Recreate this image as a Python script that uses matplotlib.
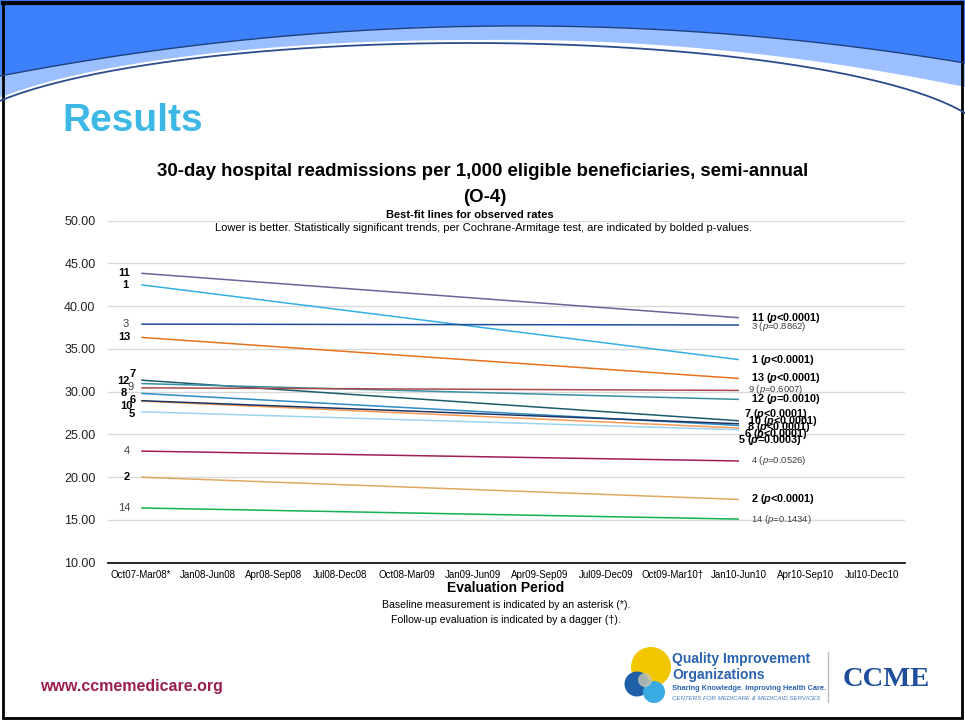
import numpy as np
import matplotlib
matplotlib.use("Agg")
import matplotlib.pyplot as plt
from matplotlib.patches import Circle, Rectangle

plt.rcParams['font.family'] = ['Liberation Sans', 'DejaVu Sans']
plt.rcParams['mathtext.fontset'] = 'custom'
plt.rcParams['mathtext.rm'] = 'Liberation Sans'
plt.rcParams['mathtext.it'] = 'Liberation Sans:italic'
plt.rcParams['mathtext.bf'] = 'Liberation Sans:bold'
plt.rcParams['mathtext.bfit'] = 'Liberation Sans:italic:bold'

# evaluation periods on the x axis
periods = ['Oct07-Mar08*', 'Jan08-Jun08', 'Apr08-Sep08', 'Jul08-Dec08', 'Oct08-Mar09',
           'Jan09-Jun09', 'Apr09-Sep09', 'Jul09-Dec09', 'Oct09-Mar10\u2020', 'Jan10-Jun10',
           'Apr10-Sep10', 'Jul10-Dec10']
fit_from = 'Oct07-Mar08*'
fit_to = 'Jan10-Jun10'

# best-fit rates per group at the first and last fitted period
groups = ['11', '1', '3', '13', '7', '12', '9', '8', '6', '10', '5', '4', '2', '14']
rate_start = [43.85, 42.50, 37.90, 36.35, 31.35, 30.95, 30.45, 29.80, 28.90, 28.95, 27.65, 23.05, 20.00, 16.40]
rate_end = [38.65, 33.75, 37.80, 31.55, 26.60, 29.10, 30.15, 26.05, 25.75, 26.25, 25.55, 21.90, 17.40, 15.10]
p_values = ['<0.0001', '<0.0001', '=0.8862', '<0.0001', '<0.0001', '=0.0010', '=0.6007',
            '<0.0001', '<0.0001', '<0.0001', '=0.0003', '=0.0526', '<0.0001', '=0.1434']
significant = [True, True, False, True, True, True, False, True, True, True, True, False, True, False]

colors = {'11': '#73609A', '1': '#35B0E4', '3': '#1F4E96', '13': '#E8711C', '7': '#1E5B6B',
          '12': '#3A8FA3', '9': '#A94A4A', '8': '#2F8CC4', '6': '#F59A52', '10': '#1B3566',
          '5': '#9AD3EE', '4': '#A01E58', '2': '#DDAA60', '14': '#14B050'}

# label nudges in pixels (dx, dy) so crowded labels don't sit on each other
left_nudge = {'11': (-11, 0), '1': (-13, 0), '3': (-12, 0), '13': (-11, 0), '7': (-5, 6),
              '12': (-12, 3), '9': (-8, 1), '8': (-14, 0), '6': (-5, 1), '10': (-9, -5),
              '5': (-6, -2), '4': (-11, 0), '2': (-11, 0), '14': (-11, 0)}
right_nudge = {'11': (12, 0), '3': (12, -1), '1': (12, 0), '13': (12, 0), '9': (9, 1),
               '12': (12, 0), '7': (5, 7), '10': (9, 3), '8': (8, -2), '6': (5, -6),
               '5': (-1, -10), '4': (12, 0), '2': (12, 0), '14': (12, 0)}

W, H = 965, 721
fig = plt.figure(figsize=(W / 100, H / 100), dpi=100)

# slide background: header swoosh, border, footer and logos
deco = fig.add_axes([0, 0, 1, 1], zorder=0)
deco.set_xlim(0, W)
deco.set_ylim(H, 0)
deco.axis('off')

xs = np.linspace(0, W, 600)

def parabola(pts):
    px, py = zip(*pts)
    return np.polyval(np.polyfit(px, py, 2), xs)

def arc(cx, cy, rx, ry):
    t = np.clip((xs - cx) / rx, -1, 1)
    return cy - ry * np.sqrt(1 - t ** 2)

upper = parabola([(0, 76), (500, 26), (965, 63)])
lower = arc(470, 144, 520, 101)
band = np.minimum(parabola([(0, 97), (480, 40), (965, 87)]), lower - 3)
deco.fill_between(xs, 0, upper, color='#3D80FC', lw=0)
deco.fill_between(xs, upper, band, where=band > upper, color='#9CC0FF', lw=0)
deco.plot(xs, upper, color='#1E3F7E', lw=1.0)
deco.plot(xs, lower, color='#2A4C8C', lw=1.3)
deco.add_patch(Rectangle((3, 3), W - 6, H - 6, fill=False, ec='black', lw=2))
deco.plot([3, W - 3], [3, 3], color='black', lw=3)

deco.text(62, 131, 'Results', color='#3DB8E4', fontsize=28, fontweight='bold', va='baseline')

deco.text(483, 171, '30-day hospital readmissions per 1,000 eligible beneficiaries, semi-annual',
          ha='center', va='center', fontsize=13.4, fontweight='bold')
deco.text(485, 198, '(O-4)', ha='center', va='center', fontsize=13.4, fontweight='bold')
deco.text(470, 215, 'Best-fit lines for observed rates', ha='center', va='center',
          fontsize=8, fontweight='bold')
deco.text(483, 228, 'Lower is better. Statistically significant trends, per Cochrane-Armitage test, '
          'are indicated by bolded p-values.', ha='center', va='center', fontsize=8)

deco.text(506, 588, 'Evaluation Period', ha='center', va='center', fontsize=10, fontweight='bold')
deco.text(506, 605, 'Baseline measurement is indicated by an asterisk (*).',
          ha='center', va='center', fontsize=7.6)
deco.text(506, 620, 'Follow-up evaluation is indicated by a dagger (\u2020).',
          ha='center', va='center', fontsize=7.6)

deco.text(40, 687, 'www.ccmemedicare.org', color='#9B1F52', fontsize=11.5,
          fontweight='bold', va='center')

# QIO logo circles
deco.add_patch(Circle((651, 667), 20, color='#F3C700', lw=0))
deco.add_patch(Circle((637, 684), 12.5, color='#1F5FA8', lw=0))
deco.add_patch(Circle((654, 692), 11, color='#3AAAE2', lw=0))
deco.add_patch(Circle((645, 680), 7, color='#C9C7B4', alpha=0.8, lw=0))
deco.text(672, 659, 'Quality Improvement', color='#2A63B0', fontsize=10, fontweight='bold', va='center')
deco.text(672, 675, 'Organizations', color='#2A63B0', fontsize=10, fontweight='bold', va='center')
deco.text(672, 689, 'Sharing Knowledge. Improving Health Care.', color='#2A63B0',
          fontsize=5.3, fontweight='bold', va='center')
deco.text(672, 699, 'CENTERS FOR MEDICARE & MEDICAID SERVICES', color='#4A7BC0',
          fontsize=4.4, style='italic', va='center')
deco.plot([828, 828], [652, 702], color='#BBBBBB', lw=1)
deco.text(843, 680, 'CCME', color='#1F4E9A', fontsize=20.5, fontweight='bold',
          family='Liberation Serif', va='center')

# chart area
ax = fig.add_axes([108 / W, 1 - 562.7 / H, (905 - 108) / W, (562.7 - 220.7) / H], zorder=1)
ax.set_facecolor('none')

i0, i1 = periods.index(fit_from), periods.index(fit_to)
for g, a, b, p, sig in zip(groups, rate_start, rate_end, p_values, significant):
    ax.plot([i0, i1], [a, b], color=colors[g], lw=1.1, solid_capstyle='butt')

    weight = 'bold' if sig else 'normal'
    tcol = 'black' if sig else '#404040'
    ax.annotate(g, xy=(i0, a), xytext=left_nudge[g], textcoords='offset pixels',
                ha='right', va='center', fontsize=8, fontweight=weight, color=tcol)
    if sig:
        lbl = g + r' ($\mathbfit{p}$' + p + ')'
        ax.annotate(lbl, xy=(i1, b), xytext=right_nudge[g], textcoords='offset pixels',
                    ha='left', va='center', fontsize=7.8, fontweight='bold', color='black')
    else:
        lbl = g + r' ($\mathit{p}$' + p + ')'
        ax.annotate(lbl, xy=(i1, b), xytext=right_nudge[g], textcoords='offset pixels',
                    ha='left', va='center', fontsize=6.8, color='#404040')

ax.set_xlim(-0.5, len(periods) - 0.5)
ax.set_ylim(10, 50)
ax.set_xticks(range(len(periods)))
ax.set_xticklabels(periods, fontsize=7)
ax.set_yticks(np.arange(10, 51, 5))
ax.set_yticklabels([f'{v:.2f}' for v in np.arange(10, 51, 5)], fontsize=9, color='#222222')
ax.tick_params(axis='x', length=0, pad=5)
ax.tick_params(axis='y', length=0, pad=9)
ax.yaxis.grid(True, color='#D9D9D9', lw=1)
ax.set_axisbelow(True)
for side in ['top', 'right', 'left']:
    ax.spines[side].set_visible(False)
ax.spines['bottom'].set_color('black')
ax.spines['bottom'].set_linewidth(1.2)

fig.savefig('out.png', dpi=100)
